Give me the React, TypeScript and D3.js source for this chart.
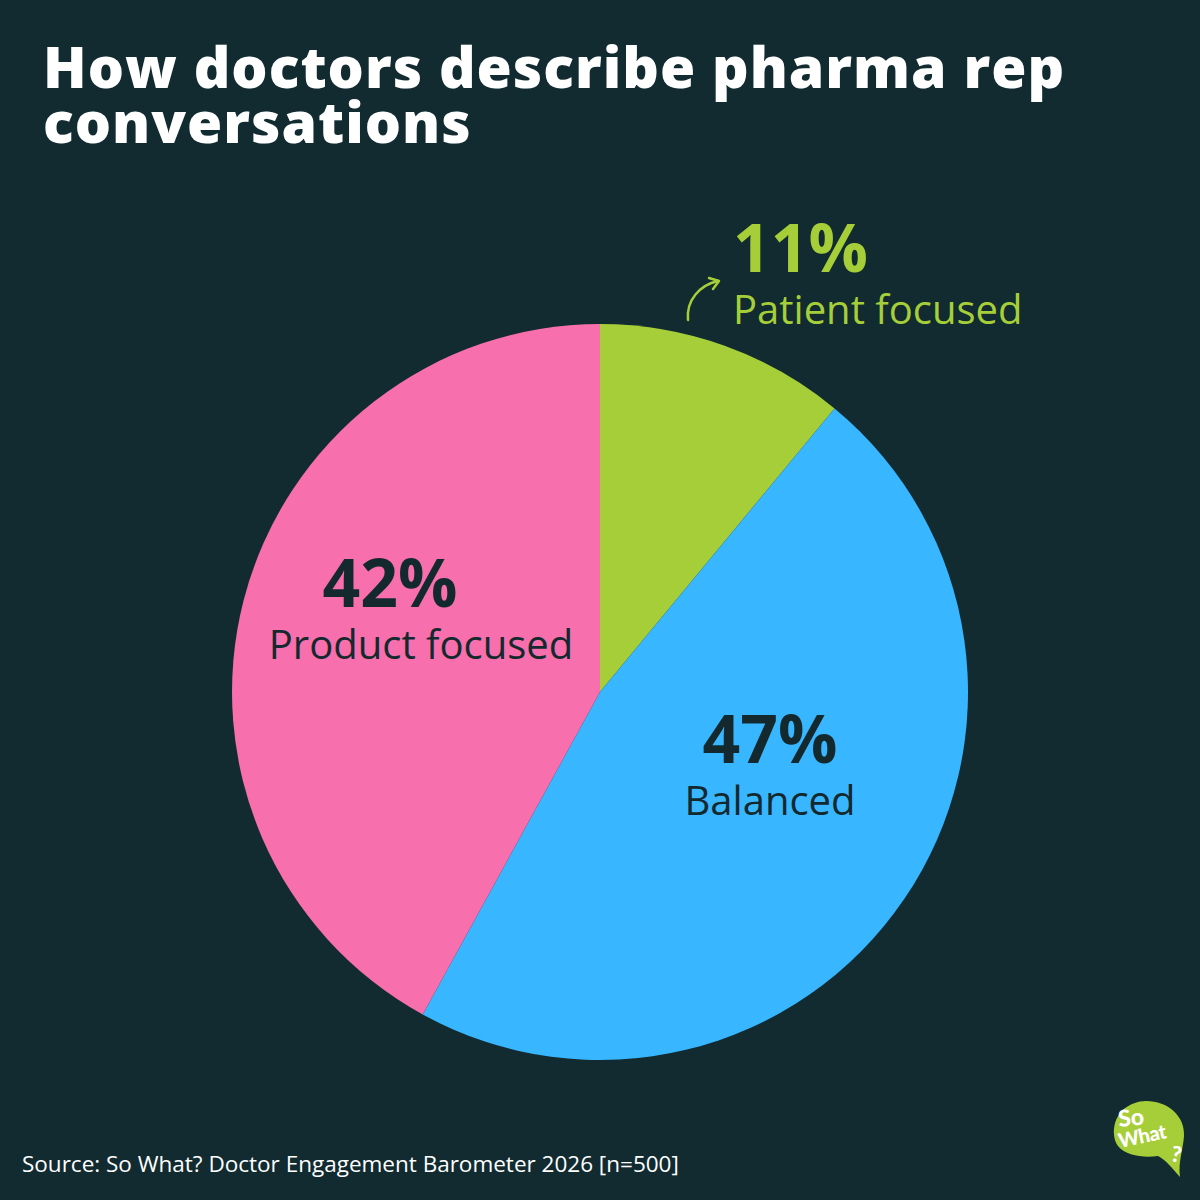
import React, { useEffect, useRef } from 'react';
import * as d3 from 'd3';

// Chart data
const categories = ['Patient focused', 'Balanced', 'Product focused'];
const shares = [11, 47, 42];
const sliceColors = ['#A6CE39', '#38B6FF', '#F76FAC'];
// label offsets from pie centre (annotation placement)
const labelOffsets: Array<[number, number]> = [[133, -420], [170, 71], [-210, -85]];

const W = 1200;
const H = 1200;
const BG = '#112B30';
const DARK = '#13292E';

export default function App() {
    const svgRef = useRef<SVGSVGElement>(null);

    useEffect(() => {
        document.body.style.margin = '0';
        if (!svgRef.current) return;
        const svg = d3.select(svgRef.current);
        svg.selectAll('*').remove();

        svg.append('rect').attr('width', W).attr('height', H).attr('fill', BG);

        // Title
        const title = svg.append('text')
            .attr('font-family', '"Open Sans", sans-serif')
            .attr('font-weight', 800)
            .attr('font-size', 57)
            .attr('letter-spacing', 1)
            .attr('fill', '#FFFFFF');
        title.append('tspan').attr('x', 43).attr('y', 88).text('How doctors describe pharma rep');
        title.append('tspan').attr('x', 43).attr('y', 143).text('conversations');

        const cx = 600;
        const cy = 692;
        const radius = 368;

        const data = categories.map((c, i) => ({ label: c, value: shares[i], color: sliceColors[i] }));

        const pie = d3.pie<any>().value(d => d.value).sort(null);
        const arc = d3.arc<any>().innerRadius(0).outerRadius(radius);

        const g = svg.append('g').attr('transform', `translate(${cx}, ${cy})`);

        g.selectAll('path.slice')
            .data(pie(data))
            .enter()
            .append('path')
            .attr('class', 'slice')
            .attr('d', arc)
            .attr('fill', d => d.data.color);

        // Labels
        data.forEach((d, i) => {
            const [dx, dy] = labelOffsets[i];
            const outside = i === 0;
            const anchor = outside ? 'start' : 'middle';
            const fill = outside ? sliceColors[0] : DARK;
            g.append('text')
                .attr('x', dx)
                .attr('y', dy)
                .attr('text-anchor', anchor)
                .attr('font-family', '"Open Sans", sans-serif')
                .attr('font-weight', 700)
                .attr('font-size', 66)
                .attr('fill', fill)
                .text(`${d.value}%`);
            g.append('text')
                .attr('x', i === 2 ? dx + 31 : dx)
                .attr('y', dy + 52)
                .attr('text-anchor', anchor)
                .attr('font-family', '"Open Sans", sans-serif')
                .attr('font-weight', 400)
                .attr('font-size', 40)
                .attr('fill', fill)
                .text(d.label);
        });

        // Curved arrow for the outside label
        const arrow = svg.append('g').attr('fill', 'none').attr('stroke', sliceColors[0])
            .attr('stroke-width', 2.5).attr('stroke-linecap', 'round').attr('stroke-linejoin', 'round');
        arrow.append('path').attr('d', 'M688,320 C686,300 700,285 718,281');
        arrow.append('path').attr('d', 'M709,278 L719,281 L713,289');

        // Source
        svg.append('text')
            .attr('x', 22)
            .attr('y', 1172)
            .attr('font-family', '"Open Sans", sans-serif')
            .attr('font-size', 22.5)
            .attr('fill', '#FFFFFF')
            .text('Source: So What? Doctor Engagement Barometer 2026 [n=500]');

        // Logo bubble
        const logo = svg.append('g');
        logo.append('path')
            .attr('d', 'M1146,1101 C1168,1101 1185,1116 1184,1136 C1183,1150 1178,1162 1180,1177 C1172,1168 1166,1160 1158,1156 C1144,1158 1126,1156 1118,1146 C1111,1136 1113,1118 1124,1109 C1130,1104 1138,1101 1146,1101 Z')
            .attr('fill', sliceColors[0]);
        logo.append('text')
            .attr('x', 1119).attr('y', 1127)
            .attr('font-family', 'Lato, sans-serif').attr('font-weight', 900)
            .attr('font-size', 23).attr('fill', '#FFFFFF')
            .attr('transform', 'rotate(-6, 1119, 1127)')
            .text('So');
        logo.append('text')
            .attr('x', 1120).attr('y', 1148)
            .attr('font-family', 'Lato, sans-serif').attr('font-weight', 900)
            .attr('font-size', 20).attr('letter-spacing', -0.5).attr('fill', '#FFFFFF')
            .attr('transform', 'rotate(-12, 1120, 1148)')
            .text('What');
        logo.append('text')
            .attr('x', 1170).attr('y', 1161)
            .attr('font-family', 'Lato, sans-serif').attr('font-weight', 900)
            .attr('font-size', 22).attr('fill', '#FFFFFF')
            .attr('transform', 'rotate(10, 1170, 1161)')
            .text('?');
    }, []);

    return <svg ref={svgRef} width={W} height={H} style={{ display: 'block' }} />;
}
